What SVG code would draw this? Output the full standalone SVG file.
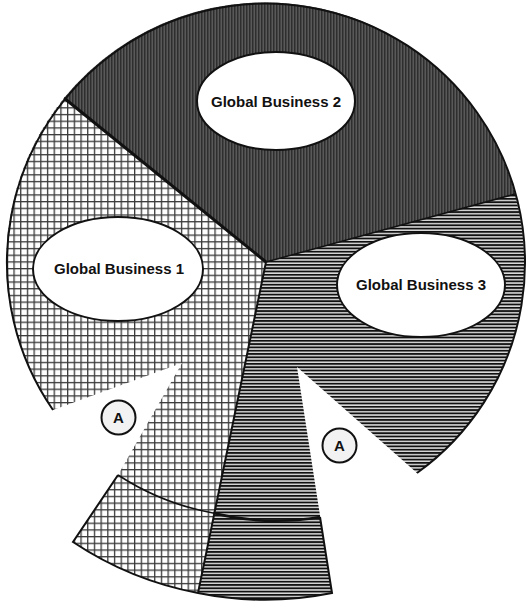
<svg xmlns="http://www.w3.org/2000/svg" width="527" height="602" viewBox="0 0 527 602">
<style>
.lbl{font-family:"Liberation Sans",Arial,sans-serif;font-weight:bold;font-size:15px;fill:#111;text-anchor:middle}
.a{font-family:"Liberation Sans",Arial,sans-serif;font-weight:bold;font-size:15px;fill:#111;text-anchor:middle}
.oval{fill:#fff;stroke:#111;stroke-width:2}
.acirc{fill:#f2f2f2;stroke:#111;stroke-width:2}
.edge{fill:none;stroke:#111;stroke-width:2}
</style>
<defs>
<pattern id="vstripe" patternUnits="userSpaceOnUse" width="3" height="3">
<rect width="3" height="3" fill="#595959"/>
<rect width="1.5" height="3" fill="#2e2e2e"/>
</pattern>
<pattern id="grid" patternUnits="userSpaceOnUse" width="6.7" height="6.7">
<rect width="6.7" height="6.7" fill="#fff"/>
<rect width="1.3" height="6.7" fill="#3a3a3a"/>
<rect width="6.7" height="1.3" fill="#3a3a3a"/>
</pattern>
<pattern id="hstripe" patternUnits="userSpaceOnUse" width="6" height="3.3">
<rect width="6" height="3.3" fill="#dcdcdc"/>
<rect width="6" height="1.8" fill="#111"/>
</pattern>
</defs>

<g id="gb2">
<path d="M266,262 L64,98 A259,259 0 0 1 515,194 Z" fill="url(#vstripe)"/>
<ellipse class="oval" cx="276" cy="101" rx="79" ry="49"/>
<text class="lbl" x="276" y="107">Global Business 2</text>
</g>

<g id="gb1">
<path d="M266,262 L64,98 A259,259 0 0 0 53,410 L182,363 L118,475 L73,542 A339,339 0 0 0 198,593 Z" fill="url(#grid)"/>
<ellipse class="oval" cx="118" cy="269" rx="85" ry="52"/>
<text class="lbl" x="119" y="274">Global Business 1</text>
</g>

<g id="gb3">
<path d="M266,262 L515,194 A259,259 0 0 1 417,473 L297,367 L332,593 A339,339 0 0 1 198,593 Z" fill="url(#hstripe)"/>
<ellipse class="oval" cx="421" cy="285" rx="84" ry="52"/>
<text class="lbl" x="421" y="290">Global Business 3</text>
</g>

<g id="connectors">
<path class="edge" d="M53,410 A259,259 0 1 1 417,473"/>
<line x1="266" y1="262" x2="64" y2="98" stroke="#111" stroke-width="3"/>
<line x1="266" y1="262" x2="515" y2="194" stroke="#111" stroke-width="1.5"/>
<line x1="266" y1="262" x2="198" y2="593" stroke="#111" stroke-width="2"/>
<path class="edge" d="M118,475 L73,542 A339,339 0 0 0 198,593 A339,339 0 0 0 332,593 L320,517"/>
<path d="M118,475 A259,259 0 0 0 213,513" fill="none" stroke="#111" stroke-width="1.5"/>
<path d="M213,513 A259,259 0 0 0 320,517" fill="none" stroke="#111" stroke-width="2.5"/>
</g>

<g id="a1">
<circle class="acirc" cx="118.5" cy="417.5" r="17"/>
<text class="a" x="118.5" y="423">A</text>
</g>
<g id="a2">
<circle class="acirc" cx="339.5" cy="445.5" r="17"/>
<text class="a" x="339.5" y="451">A</text>
</g>
</svg>
